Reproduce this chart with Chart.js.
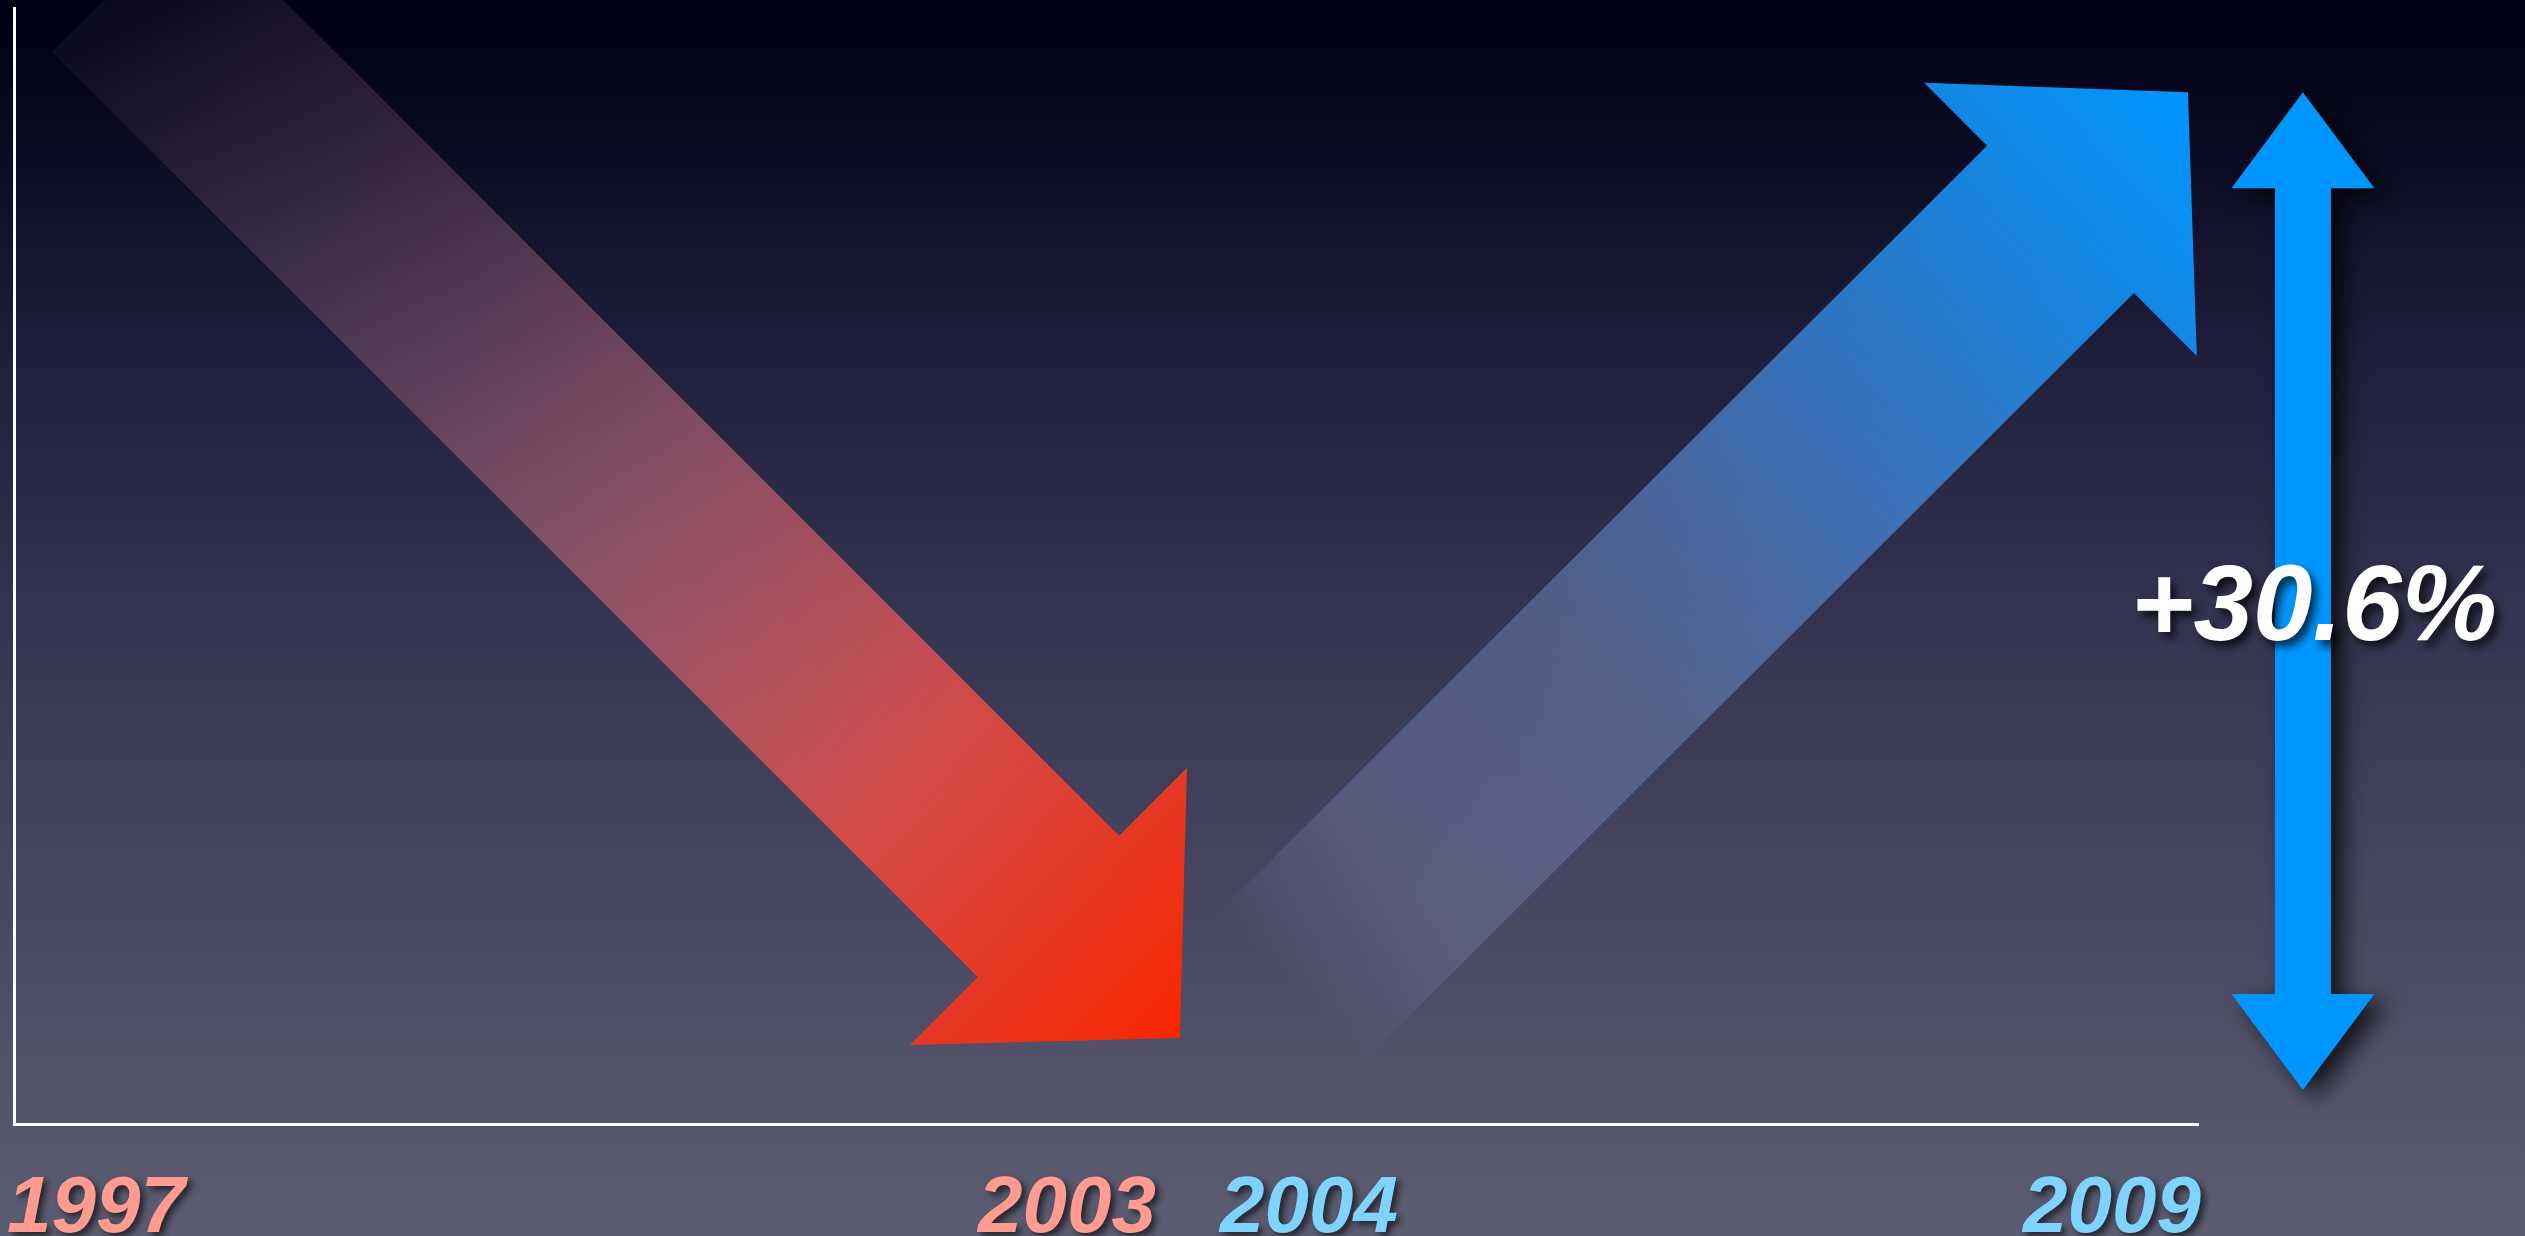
<!DOCTYPE html>
<html>
<head>
<meta charset="utf-8">
<title>1997 – 2009</title>
<script src="https://cdn.jsdelivr.net/npm/chart.js@4.4.1/dist/chart.umd.min.js"></script>
<style>
  html, body { margin: 0; padding: 0; background: #000014; overflow: hidden; }
  #wrap { width: 2525px; height: 1236px; position: relative; }
</style>
</head>
<body>
<div id="wrap"><canvas id="trendChart"></canvas></div>
<script>
// years labelled on the x axis
const tickYears = [1997, 2003, 2004, 2009];

// falling period
const declineYears = [1997, 2003];
const declineValues = [132.5, 101.6];

// recovery period
const recoveryYears = [2004, 2009];
const recoveryValues = [104.9, 130.6];

// the bracket on the right measures the last value against this level
const spanBase = 100;

const FONT = '"Liberation Sans", Arial, Helvetica, sans-serif';

// look of each big arrow, same order as the datasets
const arrowStyles = [
  {
    shaft: 200, headW: 392, headL: 186, tail: 70,
    stops: [
      [0, 'rgba(150,120,140,0.06)'],
      [0.25, 'rgba(170,110,135,0.3)'],
      [0.5, 'rgba(200,105,120,0.6)'],
      [0.75, 'rgba(225,75,70,0.9)'],
      [1, 'rgba(248,38,0,1)']
    ]
  },
  {
    shaft: 208, headW: 386, headL: 180, tail: 80,
    stops: [
      [0, 'rgba(120,135,180,0)'],
      [0.12, 'rgba(120,135,180,0.35)'],
      [0.35, 'rgba(110,135,185,0.5)'],
      [0.6, 'rgba(65,130,210,0.8)'],
      [0.85, 'rgba(20,140,235,0.95)'],
      [1, 'rgba(0,150,255,1)']
    ]
  }
];

function toPoints(xs, ys) {
  return xs.map((x, i) => ({ x: x, y: ys[i] }));
}

// arrow outline from (x0,y0) to the tip (x1,y1)
function arrowPath(ctx, x0, y0, x1, y1, shaft, headW, headL) {
  const len = Math.hypot(x1 - x0, y1 - y0);
  const ux = (x1 - x0) / len, uy = (y1 - y0) / len;
  const nx = -uy, ny = ux;
  const bx = x1 - ux * headL, by = y1 - uy * headL;
  ctx.beginPath();
  ctx.moveTo(x0 + nx * shaft / 2, y0 + ny * shaft / 2);
  ctx.lineTo(bx + nx * shaft / 2, by + ny * shaft / 2);
  ctx.lineTo(bx + nx * headW / 2, by + ny * headW / 2);
  ctx.lineTo(x1, y1);
  ctx.lineTo(bx - nx * headW / 2, by - ny * headW / 2);
  ctx.lineTo(bx - nx * shaft / 2, by - ny * shaft / 2);
  ctx.lineTo(x0 - nx * shaft / 2, y0 - ny * shaft / 2);
  ctx.closePath();
}

const backdrop = {
  id: 'backdrop',
  beforeDraw(chart) {
    const { ctx, width, height } = chart;
    const g = ctx.createLinearGradient(0, 0, 0, height);
    g.addColorStop(0, '#000014');
    g.addColorStop(0.1, '#08081f');
    g.addColorStop(0.3, '#20203d');
    g.addColorStop(0.5, '#343450');
    g.addColorStop(0.7, '#45455f');
    g.addColorStop(0.88, '#525269');
    g.addColorStop(1, '#5c5c72');
    ctx.save();
    ctx.fillStyle = g;
    ctx.fillRect(0, 0, width, height);
    ctx.restore();
  }
};

const bigArrows = {
  id: 'bigArrows',
  afterDatasetsDraw(chart) {
    const ctx = chart.ctx;
    chart.data.datasets.forEach((ds, i) => {
      const st = arrowStyles[i];
      const pts = chart.getDatasetMeta(i).data;
      const a = pts[0], b = pts[pts.length - 1];
      const len = Math.hypot(b.x - a.x, b.y - a.y);
      const ux = (b.x - a.x) / len, uy = (b.y - a.y) / len;
      const sx = a.x - ux * st.tail, sy = a.y - uy * st.tail;
      const g = ctx.createLinearGradient(sx, sy, b.x, b.y);
      st.stops.forEach(s => g.addColorStop(s[0], s[1]));
      ctx.save();
      arrowPath(ctx, sx, sy, b.x, b.y, st.shaft, st.headW, st.headL);
      ctx.fillStyle = g;
      ctx.fill();
      ctx.restore();
    });
  }
};

// double headed bracket with the percentage change
const changeSpan = {
  id: 'changeSpan',
  afterDraw(chart) {
    const { ctx, scales } = chart;
    const last = recoveryValues[recoveryValues.length - 1];
    const x = scales.x.getPixelForValue(recoveryYears[recoveryYears.length - 1]) + 115;
    const yTop = scales.y.getPixelForValue(last);
    const yBot = scales.y.getPixelForValue(spanBase);
    const shaft = 56, headW = 143, headL = 96;

    ctx.save();
    ctx.shadowColor = 'rgba(0,0,0,0.75)';
    ctx.shadowBlur = 22;
    ctx.shadowOffsetX = 12;
    ctx.shadowOffsetY = 8;
    ctx.beginPath();
    ctx.moveTo(x, yTop);
    ctx.lineTo(x + headW / 2, yTop + headL);
    ctx.lineTo(x + shaft / 2, yTop + headL);
    ctx.lineTo(x + shaft / 2, yBot - headL);
    ctx.lineTo(x + headW / 2, yBot - headL);
    ctx.lineTo(x, yBot);
    ctx.lineTo(x - headW / 2, yBot - headL);
    ctx.lineTo(x - shaft / 2, yBot - headL);
    ctx.lineTo(x - shaft / 2, yTop + headL);
    ctx.lineTo(x - headW / 2, yTop + headL);
    ctx.closePath();
    ctx.fillStyle = '#0096ff';
    ctx.fill();
    ctx.restore();

    const pct = (last / spanBase - 1) * 100;
    const text = '+' + pct.toFixed(1) + '%';
    ctx.save();
    ctx.font = 'italic bold 107px ' + FONT;
    ctx.textAlign = 'center';
    ctx.textBaseline = 'alphabetic';
    ctx.fillStyle = '#ffffff';
    ctx.shadowColor = 'rgba(0,0,0,0.7)';
    ctx.shadowBlur = 8;
    ctx.shadowOffsetX = 5;
    ctx.shadowOffsetY = 6;
    ctx.fillText(text, x + 11, (yTop + yBot) / 2 + 49);
    ctx.restore();
  }
};

// year labels under the axis, pushed apart where they would collide
const yearLabels = {
  id: 'yearLabels',
  afterDraw(chart) {
    const { ctx, scales, chartArea } = chart;
    const xs = scales.x;
    ctx.save();
    ctx.font = 'italic bold 80px ' + FONT;
    ctx.textAlign = 'center';
    ctx.textBaseline = 'alphabetic';
    const items = xs.ticks.map(t => {
      const label = String(t.value);
      return {
        label: label,
        x: xs.getPixelForValue(t.value) - 76,
        w: ctx.measureText(label).width,
        color: declineYears.includes(t.value) ? '#ff9b8f' : '#7fd4ff'
      };
    });
    for (let i = 0; i < items.length - 1; i++) {
      const need = (items[i].w + items[i + 1].w) / 2 + 64;
      const gap = items[i + 1].x - items[i].x;
      if (gap < need) {
        items[i].x -= (need - gap) / 2;
        items[i + 1].x += (need - gap) / 2;
      }
    }
    ctx.shadowColor = 'rgba(0,0,0,0.6)';
    ctx.shadowBlur = 6;
    ctx.shadowOffsetX = 4;
    ctx.shadowOffsetY = 4;
    items.forEach(it => {
      ctx.fillStyle = it.color;
      ctx.fillText(it.label, it.x, chartArea.bottom + 108);
    });
    ctx.restore();
  }
};

new Chart(document.getElementById('trendChart'), {
  type: 'line',
  data: {
    datasets: [
      {
        label: '1997–2003',
        data: toPoints(declineYears, declineValues),
        showLine: false, pointRadius: 0, borderWidth: 0
      },
      {
        label: '2004–2009',
        data: toPoints(recoveryYears, recoveryValues),
        showLine: false, pointRadius: 0, borderWidth: 0
      }
    ]
  },
  options: {
    responsive: true,
    maintainAspectRatio: false,
    animation: false,
    events: [],
    layout: { padding: { left: 14, top: 8, right: 327, bottom: 112 } },
    plugins: {
      legend: { display: false },
      tooltip: { enabled: false }
    },
    scales: {
      x: {
        type: 'linear',
        min: 1996.06,
        max: 2009.06,
        afterBuildTicks: s => { s.ticks = tickYears.map(v => ({ value: v })); },
        ticks: { display: false },
        grid: { display: false, drawTicks: false },
        border: { color: '#ffffff', width: 3 }
      },
      y: {
        type: 'linear',
        min: 98.96,
        max: 133.18,
        ticks: { display: false },
        grid: { display: false, drawTicks: false },
        border: { color: '#ffffff', width: 3 }
      }
    }
  },
  plugins: [backdrop, bigArrows, changeSpan, yearLabels]
});
</script>
</body>
</html>
